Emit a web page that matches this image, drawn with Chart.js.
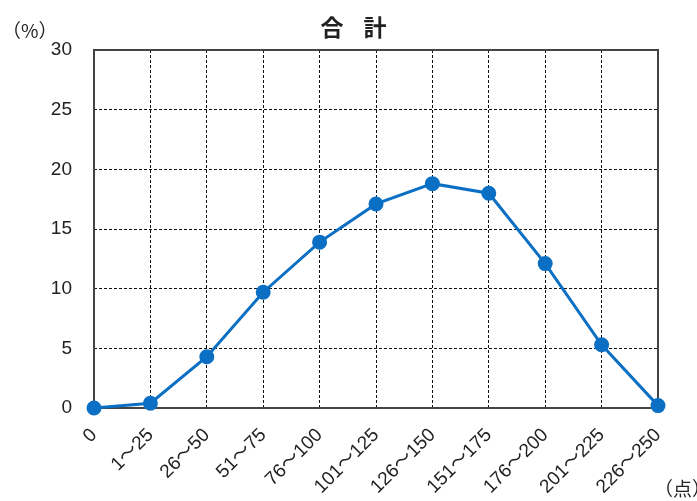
<!DOCTYPE html>
<html>
<head>
<meta charset="utf-8">
<script src="https://cdn.jsdelivr.net/npm/chart.js@4/dist/chart.umd.min.js"></script>
<style>
  body { margin: 0; background: #fff; }
  #wrap { width: 697px; height: 501px; }
</style>
</head>
<body>
<div id="wrap"><canvas id="chart" width="697" height="501"></canvas></div>
<script>
// 得点区分
const categories = ['0', '1～25', '26～50', '51～75', '76～100', '101～125', '126～150', '151～175', '176～200', '201～225', '226～250'];
// 合計 (%)
const totalValues = [0, 0.4, 4.3, 9.7, 13.9, 17.1, 18.8, 18.0, 12.1, 5.3, 0.2];
const yTicks = [0, 5, 10, 15, 20, 25, 30];

const FONT = '"Liberation Sans", "Noto Sans CJK JP", sans-serif';

// 枠線と文字
const extras = {
    id: 'extras',
    beforeDatasetsDraw(chart) {
        const { ctx, chartArea: a } = chart;
        ctx.save();
        ctx.strokeStyle = '#444';
        ctx.lineWidth = 2;
        ctx.strokeRect(a.left, a.top, a.right - a.left, a.bottom - a.top);
        ctx.restore();
    },
    afterDraw(chart) {
        const ctx = chart.ctx;
        ctx.save();
        ctx.fillStyle = '#222';
        ctx.textBaseline = 'middle';
        ctx.textAlign = 'center';
        ctx.font = 'bold 23px "Noto Sans CJK JP", sans-serif';
        ctx.fillText('合', 332, 27);
        ctx.fillText('計', 375, 27);
        ctx.font = '19px "Noto Sans CJK JP", sans-serif';
        ctx.textAlign = 'left';
        ctx.fillText('（%）', 2, 31);
        ctx.fillText('（点）', 654, 489);
        ctx.restore();
    }
};

new Chart(document.getElementById('chart'), {
    type: 'line',
    data: {
        labels: categories,
        datasets: [{
            label: '合計',
            data: totalValues,
            borderColor: '#0b6fc4',
            backgroundColor: '#0b6fc4',
            borderWidth: 3,
            pointRadius: 6,
            pointHoverRadius: 6,
            tension: 0,
            clip: false
        }]
    },
    options: {
        responsive: false,
        animation: false,
        devicePixelRatio: 1,
        layout: { padding: { top: 50, right: 39, left: 0, bottom: 0 } },
        plugins: {
            legend: { display: false },
            title: { display: false },
            tooltip: { enabled: false }
        },
        scales: {
            x: {
                offset: false,
                afterFit: s => { s.height = 93; },
                grid: { color: '#111', drawTicks: false, lineWidth: 1 },
                border: { display: false, dash: [3, 2] },
                ticks: {
                    color: '#222',
                    font: { family: FONT, size: 19 },
                    minRotation: 45,
                    maxRotation: 45,
                    padding: 16,
                    autoSkip: false
                }
            },
            y: {
                min: 0,
                max: 30,
                afterFit: s => { s.width = 94; },
                afterBuildTicks: s => { s.ticks = yTicks.map(v => ({ value: v })); },
                grid: { color: '#111', drawTicks: false, lineWidth: 1 },
                border: { display: false, dash: [3, 2] },
                ticks: {
                    color: '#222',
                    font: { family: FONT, size: 19 },
                    padding: 22
                }
            }
        }
    },
    plugins: [extras]
});
</script>
</body>
</html>
